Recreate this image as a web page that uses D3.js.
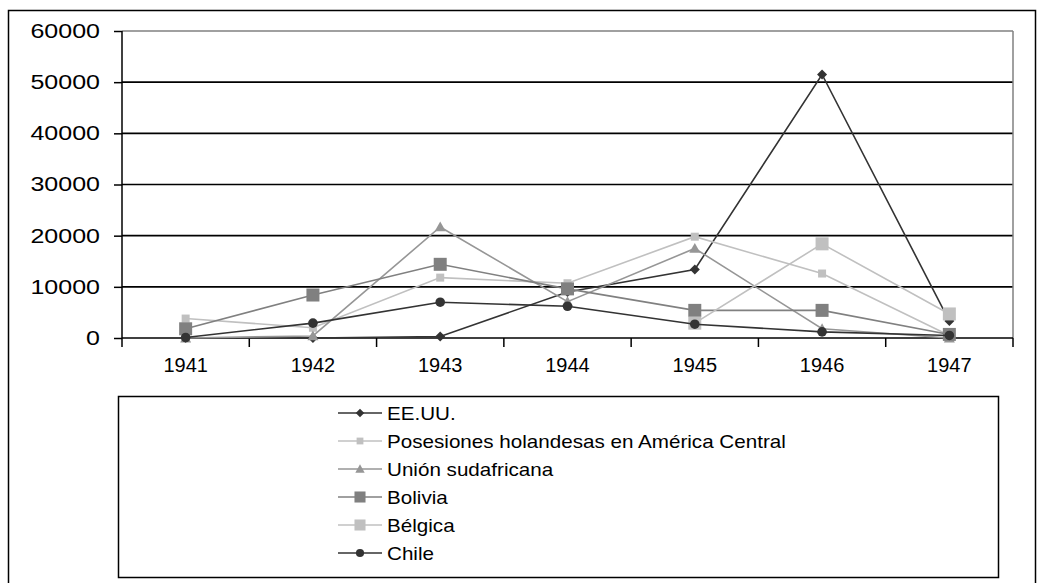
<!DOCTYPE html>
<html><head><meta charset="utf-8">
<script src="https://cdn.jsdelivr.net/npm/d3@7"></script>
<style>body{margin:0;background:#fff}svg{display:block}text{font-family:"Liberation Sans",Arial,sans-serif;fill:#000}</style>
</head><body><svg id="c" width="1044" height="583"></svg>
<script>
const years = ["1941","1942","1943","1944","1945","1946","1947"];
const yTicks = [0,10000,20000,30000,40000,50000,60000];
const seriesNames = ["EE.UU.","Posesiones holandesas en América Central","Unión sudafricana","Bolivia","Bélgica","Chile"];
const eeuu       = [0, 0, 300, 9000, 13400, 51500, 3300];
const posesiones = [3800, 2000, 11800, 10700, 19800, 12600, 500];
const union      = [0, 400, 21700, 7100, 17500, 1800, 0];
const bolivia    = [1800, 8400, 14400, 9600, 5400, 5400, 700];
const belgica    = [null, null, null, null, 2900, 18400, 4700];
const chile      = [100, 2900, 7000, 6200, 2700, 1200, 500];

const values = [eeuu, posesiones, union, bolivia, belgica, chile];
const colors = ["#333333","#c0c0c0","#969696","#808080","#c0c0c0","#333333"];
const markers = ["diamond","smallsquare","triangle","square","square","circle"];

const svg = d3.select("#c");
svg.append("rect").attr("x",8.5).attr("y",10.5).attr("width",1027).attr("height",600)
  .attr("fill","none").attr("stroke","#000").attr("stroke-width",1.5);

const L=122, R=1013, T=31, B=338;
const x = d3.scaleBand().domain(years).range([L,R]).padding(0);
const y = d3.scaleLinear().domain([0,60000]).range([B,T]);
const cx = d => x(d)+x.bandwidth()/2;

svg.append("g").selectAll("line").data(yTicks.filter(v=>v>0)).join("line")
  .attr("x1",L).attr("x2",R).attr("y1",d=>y(d)).attr("y2",d=>y(d))
  .attr("stroke",d=>d===60000?"#808080":"#000").attr("stroke-width",1.6);
svg.append("line").attr("x1",R).attr("x2",R).attr("y1",T).attr("y2",B).attr("stroke","#808080").attr("stroke-width",1.5);

const ya = svg.append("g").attr("transform",`translate(${L},0)`)
  .call(d3.axisLeft(y).tickValues(yTicks).tickSize(8).tickPadding(14).tickFormat(d3.format("d")));
ya.select(".domain").attr("stroke","#000").attr("stroke-width",1.5).attr("d",`M0,${T}V${B}`);
ya.selectAll(".tick line").attr("stroke","#000").attr("stroke-width",1.5);
ya.selectAll(".tick text").attr("font-size",20).attr("font-family","Liberation Sans, Arial, sans-serif").attr("fill","#000")
  .each(function(){ const w=this.getComputedTextLength(); d3.select(this).attr("textLength",w*1.25).attr("lengthAdjust","spacingAndGlyphs"); });

const xa = svg.append("g").attr("transform",`translate(0,${B})`)
  .call(d3.axisBottom(x).tickSize(0).tickPadding(20));
xa.select(".domain").attr("stroke","#000").attr("stroke-width",1.5).attr("d",`M${L},0H${R}`);
xa.selectAll(".tick text").attr("font-size",20).attr("font-family","Liberation Sans, Arial, sans-serif").attr("fill","#000");
const bounds = years.map(d=>x(d)).concat([R]);
xa.append("g").selectAll("line").data(bounds).join("line")
  .attr("x1",d=>d).attr("x2",d=>d).attr("y1",0).attr("y2",9).attr("stroke","#000").attr("stroke-width",1.5);

function drawMarker(g, type, color, px, py, s){
  s = s||1;
  if(type==="diamond"){
    const h=5*s;
    g.append("path").attr("d",`M${px},${py-h}L${px+h},${py}L${px},${py+h}L${px-h},${py}Z`).attr("fill",color);
  } else if(type==="smallsquare"){
    const h=4*s;
    g.append("rect").attr("x",px-h).attr("y",py-h).attr("width",2*h).attr("height",2*h).attr("fill",color);
  } else if(type==="square"){
    const h=6.5*s;
    g.append("rect").attr("x",px-h).attr("y",py-h).attr("width",2*h).attr("height",2*h).attr("fill",color);
  } else if(type==="triangle"){
    const h=5.5*s;
    g.append("path").attr("d",`M${px},${py-h}L${px+h},${py+h*0.8}L${px-h},${py+h*0.8}Z`).attr("fill",color);
  } else if(type==="circle"){
    g.append("circle").attr("cx",px).attr("cy",py).attr("r",4.8*s).attr("fill",color);
  }
}

const line = d3.line().defined(d=>d.v!==null).x(d=>cx(d.year)).y(d=>y(d.v));
values.forEach((vals,i)=>{
  const g = svg.append("g");
  const pts = years.map((yr,j)=>({year:yr,v:vals[j]}));
  g.append("path").datum(pts).attr("d",line).attr("fill","none").attr("stroke",colors[i]).attr("stroke-width",1.6);
  pts.filter(p=>p.v!==null).forEach(p=>drawMarker(g,markers[i],colors[i],cx(p.year),y(p.v)));
});

svg.append("rect").attr("x",118.5).attr("y",396.5).attr("width",880).attr("height",181)
  .attr("fill","none").attr("stroke","#000").attr("stroke-width",1.5);
const lg = svg.append("g");
seriesNames.forEach((name,i)=>{
  const ly = 413 + i*28;
  lg.append("line").attr("x1",338).attr("x2",382).attr("y1",ly).attr("y2",ly).attr("stroke",colors[i]).attr("stroke-width",1.6);
  drawMarker(lg, markers[i], colors[i], 360, ly, 0.85);
  lg.append("text").attr("x",387).attr("y",ly).attr("dy","0.35em").attr("font-size",19).text(name)
    .each(function(){ const w=this.getComputedTextLength(); d3.select(this).attr("textLength",w*1.085).attr("lengthAdjust","spacingAndGlyphs"); });
});
</script></body></html>
